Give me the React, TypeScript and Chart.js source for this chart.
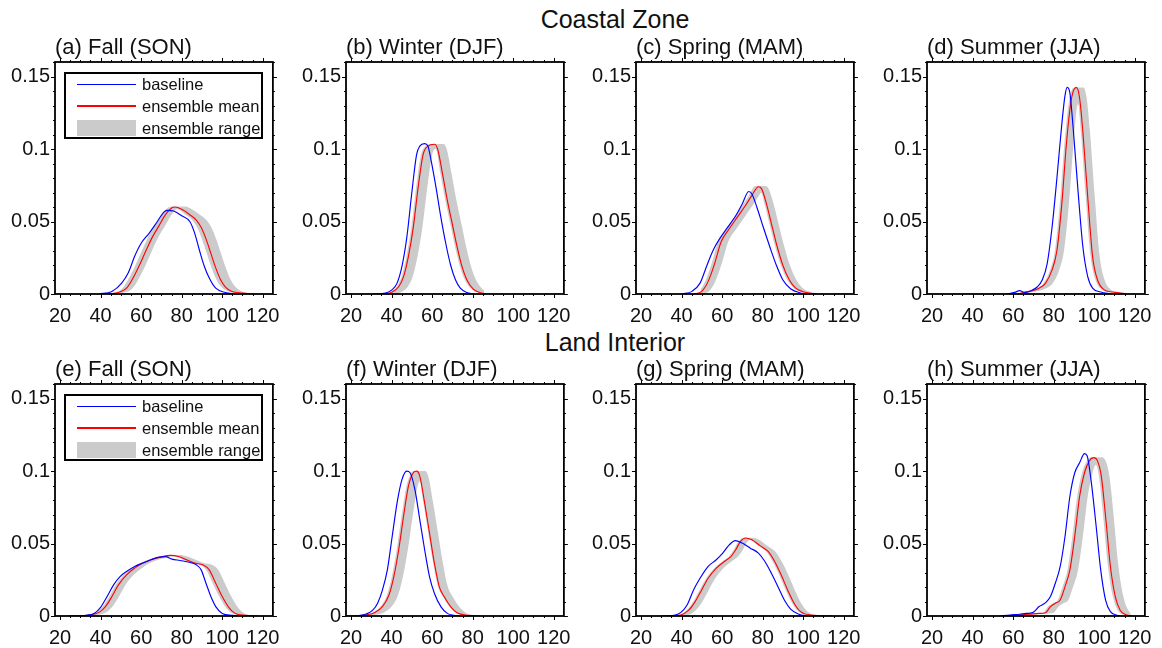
import React, { useEffect, useRef } from "react";
import { Chart, registerables } from "chart.js";

Chart.register(...registerables);

const FONT = "'Liberation Sans', Arial, Helvetica, sans-serif";

// Axis settings
const X_MIN = 17.5;
const X_MAX = 125;
const Y_MAX = 0.16;
const xTickValues = [20, 40, 60, 80, 100, 120];
const yTickValues = [0, 0.05, 0.1, 0.15];
const yTickLabels = ["0", "0.05", "0.1", "0.15"];

const rowTitles = ["Coastal Zone", "Land Interior"];
const panelTitles = [
  "(a) Fall (SON)", "(b) Winter (DJF)", "(c) Spring (MAM)", "(d) Summer (JJA)",
  "(e) Fall (SON)", "(f) Winter (DJF)", "(g) Spring (MAM)", "(h) Summer (JJA)",
];
const legendLabels = ["baseline", "ensemble mean", "ensemble range"];

// ---- Coastal Zone ----
const coastFallBase = [[39.2,0],[45.6,0.0018],[50.4,0.0075],[53.6,0.0144],[56.8,0.026],[60,0.035],[64,0.042],[68,0.05],[71.2,0.0565],[72.8,0.0577],[76,0.0572],[80,0.054],[84,0.05],[86.4,0.042],[88.8,0.03],[91.2,0.019],[93.6,0.011],[96.8,0.004],[101.6,0.001],[106,0]];
const coastFallMean = [[42.4,0],[48.8,0.001],[52.8,0.004],[56,0.011],[59.2,0.02],[62.4,0.03],[65.6,0.0394],[68.8,0.047],[72,0.0547],[75.2,0.0595],[76.8,0.06],[80,0.0584],[84,0.0547],[87.2,0.051],[89.6,0.046],[92,0.038],[94.4,0.028],[96.8,0.018],[99.2,0.0098],[101.6,0.0048],[104.8,0.0018],[109.6,0.0007],[116,0]];
const coastFallHi = [[40.4,0],[46.8,0.001],[50.8,0.004],[54,0.011],[57.2,0.02],[60.4,0.03],[63.6,0.0394],[66.8,0.047],[70,0.0547],[73.2,0.0595],[74.8,0.0603],[81.8,0.0603],[85,0.0584],[89,0.0547],[92.2,0.051],[94.6,0.046],[97,0.038],[99.4,0.028],[101.8,0.018],[104.2,0.0098],[106.6,0.0048],[109.8,0.0018],[114.6,0.0005],[118,0]];
const coastFallLo = [[45.4,0],[51.8,0.001],[55.8,0.004],[59,0.011],[62.2,0.02],[65.4,0.03],[68.6,0.0394],[71.8,0.047],[75,0.0547],[77.7,0.0585],[82,0.0547],[85.2,0.051],[87.6,0.046],[90,0.038],[92.4,0.028],[94.8,0.018],[97.2,0.0098],[99.6,0.0048],[102.8,0.0018],[107.6,0.0007],[114,0]];

const coastWinterBase = [[30.7,0],[37,0.0007],[40.3,0.003],[42.7,0.0075],[45.1,0.019],[47.5,0.039],[49.9,0.069],[52.3,0.096],[53.9,0.102],[56.3,0.1037],[57.9,0.102],[59.5,0.092],[61.9,0.0736],[64.3,0.053],[66.7,0.035],[69.1,0.02],[71.5,0.0098],[73.9,0.004],[77.1,0.001],[80.3,0]];
const coastWinterMean = [[35.5,0],[40.3,0.0014],[43.5,0.005],[45.9,0.012],[48.3,0.026],[50.7,0.046],[53.1,0.0736],[55.5,0.096],[57.9,0.102],[61.1,0.1033],[62.7,0.1],[65.1,0.083],[67.5,0.0645],[69.9,0.0486],[72.3,0.0326],[74.7,0.019],[77.1,0.0098],[80.3,0.0034],[83.5,0.0011],[86.7,0]];
const coastWinterHi = [[34.5,0],[39.3,0.0014],[42.5,0.005],[44.9,0.012],[47.3,0.026],[49.7,0.046],[52.1,0.0736],[54.5,0.096],[56.9,0.102],[60.1,0.1035],[65.6,0.1035],[67.2,0.1],[69.6,0.083],[72,0.0645],[74.4,0.0486],[76.8,0.0326],[79.2,0.019],[81.6,0.0098],[84.8,0.0034],[88,0.0011],[91.2,0]];
const coastWinterLo = [[40,0],[44.8,0.0014],[48,0.005],[50.4,0.012],[52.8,0.026],[55.2,0.046],[57.6,0.0736],[60,0.096],[61.7,0.1],[64.1,0.083],[66.5,0.0645],[68.9,0.0486],[71.3,0.0326],[73.7,0.019],[76.1,0.0098],[79.3,0.0034],[82.5,0.0011],[85.7,0]];

const coastSpringBase = [[40.3,0],[45.1,0.0018],[49.1,0.0075],[52.3,0.019],[55.5,0.03],[58.7,0.038],[62.7,0.046],[66.7,0.054],[69.9,0.062],[73.1,0.0707],[74.7,0.069],[77.1,0.06],[80.3,0.046],[83.5,0.0326],[86.7,0.02],[89.9,0.0098],[93.9,0.0034],[98.7,0.0007],[102,0]];
const coastSpringMean = [[45.9,0],[49.9,0.0018],[53.1,0.0087],[56.3,0.021],[59.5,0.036],[63.5,0.045],[67.5,0.053],[71.5,0.061],[74.7,0.068],[77.9,0.074],[79.5,0.0725],[81.9,0.062],[84.3,0.0486],[86.7,0.035],[89.9,0.02],[93.1,0.0098],[96.3,0.004],[100.3,0.0014],[106.7,0]];
const coastSpringHi = [[44.4,0],[48.4,0.0018],[51.6,0.0087],[54.8,0.021],[58,0.036],[62,0.045],[66,0.053],[70,0.061],[73.2,0.068],[76.4,0.0745],[81.4,0.0745],[83,0.0725],[85.4,0.062],[87.8,0.0486],[90.2,0.035],[93.4,0.02],[96.6,0.0098],[99.8,0.004],[103.8,0.0014],[108,0]];
const coastSpringLo = [[49.4,0],[53.4,0.0018],[56.6,0.0087],[59.8,0.021],[63,0.036],[67,0.045],[71,0.053],[75,0.061],[78.2,0.068],[79.2,0.0698],[80.9,0.062],[83.3,0.0486],[85.7,0.035],[88.9,0.02],[92.1,0.0098],[95.3,0.004],[99.3,0.0014],[105.7,0]];

const coastSummerBase = [[56.8,0],[60.8,0.0011],[63.2,0.0023],[65.6,0.001],[68.8,0.0023],[72,0.005],[74.4,0.0098],[76.8,0.021],[79.2,0.046],[81.6,0.08],[84,0.117],[85.6,0.137],[86.7,0.1425],[88,0.1386],[89.6,0.1147],[92,0.0713],[94.4,0.0326],[96.8,0.012],[99.2,0.004],[103.2,0.0014],[108,0]];
const coastSummerMean = [[62.4,0],[66.4,0.0016],[69.6,0.0023],[72.8,0.004],[76,0.0075],[79.2,0.0166],[81.6,0.03],[84,0.062],[86.4,0.1055],[88.8,0.135],[91.2,0.1425],[92.8,0.135],[94.4,0.112],[96.8,0.0668],[99.2,0.0258],[101.6,0.0098],[104.8,0.003],[108.8,0.0014],[112.8,0.0007],[116,0]];
const coastSummerHi = [[61.4,0],[65.4,0.0016],[68.6,0.0023],[71.8,0.004],[75,0.0075],[78.2,0.0166],[80.6,0.03],[83,0.062],[85.4,0.1055],[87.8,0.135],[90.2,0.1425],[94.7,0.1425],[96.3,0.135],[97.9,0.112],[100.3,0.0668],[102.7,0.0258],[105.1,0.0098],[108.3,0.003],[112.3,0.0014],[116.3,0.0007],[119.5,0]];
const coastSummerLo = [[65.9,0],[69.9,0.0016],[73.1,0.0023],[76.3,0.004],[79.5,0.0075],[82.7,0.0166],[85.1,0.03],[87.5,0.062],[89.9,0.1055],[92,0.131],[93.4,0.112],[95.8,0.0668],[98.2,0.0258],[100.6,0.0098],[103.8,0.003],[107.8,0.0014],[111.8,0.0007],[115,0]];

// ---- Land Interior ----
const landFallBase = [[24,0],[32.8,0.0005],[36.8,0.0018],[40,0.006],[43.2,0.0134],[46.4,0.0215],[49.6,0.0272],[52.8,0.0307],[56.8,0.0342],[60.8,0.0365],[64.8,0.0388],[68.8,0.0406],[72,0.041],[75.2,0.0392],[79.2,0.0383],[83.2,0.0372],[87.2,0.0353],[89.6,0.0318],[92,0.0226],[94.4,0.0134],[96.8,0.0065],[100,0.0018],[104.8,0.0005],[109.6,0]];
const landFallMean = [[28,0],[34.4,0.0007],[39.2,0.0025],[42.4,0.0065],[45.6,0.0134],[48.8,0.0215],[52.8,0.0284],[56.8,0.033],[60.8,0.0365],[64.8,0.0388],[69.6,0.0406],[74.4,0.0418],[78.4,0.041],[82.4,0.0388],[86.4,0.0365],[90.4,0.0353],[93.6,0.0318],[96.8,0.0226],[100,0.0134],[103.2,0.006],[106.4,0.0018],[111.2,0.0005],[117.6,0]];
const landFallHi = [[26.7,0],[33.1,0.0007],[37.9,0.0025],[41.1,0.0065],[44.3,0.0134],[47.5,0.0215],[51.5,0.0284],[55.5,0.033],[59.5,0.0365],[63.5,0.0388],[68.3,0.0406],[73.1,0.042],[78.9,0.042],[82.9,0.041],[86.9,0.0388],[90.9,0.0365],[94.9,0.0353],[98.1,0.0318],[101.3,0.0226],[104.5,0.0134],[107.7,0.006],[110.9,0.0018],[115.7,0.0005],[120,0]];
const landFallLo = [[31.5,0],[37.9,0.0007],[42.7,0.0025],[45.9,0.0065],[49.1,0.0134],[52.3,0.0215],[56.3,0.0284],[60.3,0.033],[64.3,0.0365],[68.3,0.0388],[73.1,0.0406],[76,0.0412],[80.9,0.0388],[84.9,0.0365],[88.9,0.0353],[92.1,0.0318],[95.3,0.0226],[98.5,0.0134],[101.7,0.006],[104.9,0.0018],[109.7,0.0005],[116.1,0]];

const landWinterBase = [[17,0],[22.7,0.0002],[27.5,0.0014],[30.7,0.004],[33.1,0.0088],[35.5,0.018],[37.9,0.0318],[40.3,0.055],[42.7,0.078],[45.1,0.094],[47.5,0.0999],[49.1,0.0988],[51.5,0.0872],[53.9,0.0665],[56.3,0.0457],[58.7,0.0272],[61.1,0.0157],[64.3,0.0065],[67.5,0.0018],[70.7,0.0005],[73.9,0]];
const landWinterMean = [[20.3,0],[26.7,0.0007],[31.5,0.0023],[35.5,0.0065],[38.7,0.0145],[41.1,0.0272],[43.5,0.0457],[45.9,0.0688],[48.3,0.0895],[50.7,0.0988],[52.3,0.0999],[53.9,0.0965],[56.3,0.078],[58.7,0.0572],[61.1,0.0365],[63.5,0.0203],[65.9,0.0134],[69.1,0.0065],[72.3,0.0023],[77.1,0.0005],[83.5,0]];
const landWinterHi = [[19.3,0],[25.7,0.0007],[30.5,0.0023],[34.5,0.0065],[37.7,0.0145],[40.1,0.0272],[42.5,0.0457],[44.9,0.0688],[47.3,0.0895],[49.7,0.0988],[51.3,0.1],[56.5,0.1],[58.1,0.0965],[60.5,0.078],[62.9,0.0572],[65.3,0.0365],[67.7,0.0203],[70.1,0.0134],[73.3,0.0065],[76.5,0.0023],[81.3,0.0005],[87.7,0]];
const landWinterLo = [[24.8,0],[31.2,0.0007],[36,0.0023],[40,0.0065],[43.2,0.0145],[45.6,0.0272],[48,0.0457],[50.4,0.0688],[52.8,0.0895],[53.8,0.093],[55.7,0.078],[58.1,0.0572],[60.5,0.0365],[62.9,0.0203],[65.3,0.0134],[68.5,0.0065],[71.7,0.0023],[76.5,0.0005],[82.9,0]];

const landSpringBase = [[29.9,0],[36.3,0.0005],[39.5,0.0023],[42.7,0.0076],[45.9,0.018],[49.1,0.026],[53.1,0.0342],[57.1,0.0388],[60.3,0.0434],[63.5,0.049],[66.4,0.052],[69.9,0.0503],[73.9,0.0468],[77.9,0.0434],[81.1,0.0376],[84.3,0.0295],[87.5,0.0203],[90.7,0.011],[93.9,0.0046],[97.9,0.0012],[101.9,0]];
const landSpringMean = [[33.1,0],[39.5,0.0007],[43.5,0.004],[46.7,0.0099],[49.9,0.018],[53.1,0.026],[57.1,0.033],[61.1,0.0376],[64.3,0.041],[66.7,0.0457],[69.1,0.0515],[71.5,0.0538],[74.7,0.0526],[78.7,0.0485],[82.7,0.0445],[85.9,0.0376],[89.1,0.0284],[92.3,0.018],[95.5,0.0088],[98.7,0.003],[103.5,0.0007],[114.7,0]];
const landSpringHi = [[32.1,0],[38.5,0.0007],[42.5,0.004],[45.7,0.0099],[48.9,0.018],[52.1,0.026],[56.1,0.033],[60.1,0.0376],[63.3,0.041],[65.7,0.0457],[68.1,0.0515],[70.5,0.054],[75,0.054],[78.2,0.0526],[82.2,0.0485],[86.2,0.0445],[89.4,0.0376],[92.6,0.0284],[95.8,0.018],[99,0.0088],[102.2,0.003],[107,0.0007],[116,0]];
const landSpringLo = [[36.6,0],[43,0.0007],[47,0.004],[50.2,0.0099],[53.4,0.018],[56.6,0.026],[60.6,0.033],[64.6,0.0376],[67.8,0.041],[70.2,0.0457],[72.6,0.0515],[73.6,0.0525],[77.7,0.0485],[81.7,0.0445],[84.9,0.0376],[88.1,0.0284],[91.3,0.018],[94.5,0.0088],[97.7,0.003],[102.5,0.0007],[113.7,0]];

const landSummerBase = [[53.6,0],[58.4,0.0007],[63.2,0.0012],[66.4,0.0018],[69.6,0.0023],[72.8,0.0065],[76,0.0092],[78.4,0.0134],[80.8,0.0226],[83.2,0.034],[85.6,0.055],[88,0.0826],[90.4,0.0988],[92.8,0.1057],[95.2,0.112],[96.5,0.1105],[98.4,0.094],[100.8,0.064],[103.2,0.0318],[105.6,0.011],[108,0.003],[111.2,0.0005],[112.8,0]];
const landSummerMean = [[55.2,0],[61.6,0.0005],[68,0.0012],[72.8,0.0018],[76,0.0023],[78.4,0.0065],[80.8,0.0088],[83.2,0.011],[85.6,0.0203],[88,0.0318],[90.4,0.055],[92.8,0.0826],[95.2,0.0988],[97.6,0.107],[99.7,0.1092],[101.6,0.107],[103.5,0.0965],[105.6,0.0688],[108,0.034],[110.4,0.0134],[112.8,0.004],[116,0.0007],[119.2,0]];
const landSummerHi = [[54,0],[60.4,0.0005],[66.8,0.0012],[71.6,0.0018],[74.8,0.0023],[77.2,0.0065],[79.6,0.0088],[82,0.011],[84.4,0.0203],[86.8,0.0318],[89.2,0.055],[91.6,0.0826],[94,0.0988],[96.4,0.107],[98.5,0.1095],[103.7,0.1095],[105.6,0.107],[107.5,0.0965],[109.6,0.0688],[112,0.034],[114.4,0.0134],[116.8,0.004],[120,0.0007],[123.2,0]];
const landSummerLo = [[59.2,0],[65.6,0.0005],[72,0.0012],[76.8,0.0018],[80,0.0023],[82.4,0.0065],[84.8,0.0088],[87.2,0.011],[89.6,0.0203],[92,0.0318],[94.4,0.055],[96.8,0.0826],[99.2,0.0988],[100.8,0.1043],[102.3,0.0965],[104.4,0.0688],[106.8,0.034],[109.2,0.0134],[111.6,0.004],[114.8,0.0007],[118,0]];

const panelSeries = [
  [coastFallBase, coastFallMean, coastFallHi, coastFallLo],
  [coastWinterBase, coastWinterMean, coastWinterHi, coastWinterLo],
  [coastSpringBase, coastSpringMean, coastSpringHi, coastSpringLo],
  [coastSummerBase, coastSummerMean, coastSummerHi, coastSummerLo],
  [landFallBase, landFallMean, landFallHi, landFallLo],
  [landWinterBase, landWinterMean, landWinterHi, landWinterLo],
  [landSpringBase, landSpringMean, landSpringHi, landSpringLo],
  [landSummerBase, landSummerMean, landSummerHi, landSummerLo],
];

// Layout (plot-area positions on the page)
const COL_LEFT = [55, 346, 636, 927];
const ROW_TOP = [62, 384];
const AREA_W = 223;
const AREA_H = 232;
const CANVAS_W = 290;
const CANVAS_H = 300;
const PAD_LEFT = 55;
const PAD_TOP = 32;

const BLUE = "#0000ff";
const RED = "#ff0000";
const GRAY = "#cbcbcb";

const framePlugin = {
  id: "frameTicks",
  afterDatasetsDraw(chart: any) {
    const { ctx, chartArea: a, scales } = chart;
    const xs = scales.x;
    const ys = scales.y;
    ctx.save();
    ctx.strokeStyle = "#000";
    ctx.lineWidth = 1;
    ctx.beginPath();
    for (let v = 20; v <= 120; v += 5) {
      const px = Math.round(xs.getPixelForValue(v)) + 0.5;
      const len = v % 20 === 0 ? 4 : 2;
      ctx.moveTo(px, a.bottom);
      ctx.lineTo(px, a.bottom + len);
      ctx.moveTo(px, a.top);
      ctx.lineTo(px, a.top - len);
    }
    for (let i = 0; i <= 16; i++) {
      const v = i / 100;
      const py = Math.round(ys.getPixelForValue(v)) + 0.5;
      const len = i % 5 === 0 ? 4 : 2;
      ctx.moveTo(a.left, py);
      ctx.lineTo(a.left - len, py);
      ctx.moveTo(a.right, py);
      ctx.lineTo(a.right + len, py);
    }
    ctx.stroke();
    ctx.lineWidth = 1.8;
    ctx.strokeRect(a.left, a.top, a.right - a.left, a.bottom - a.top);
    ctx.restore();
  },
};

function toXY(arr: number[][]) {
  return arr.map(([x, y]) => ({ x, y }));
}

function Panel({ idx }: { idx: number }) {
  const ref = useRef<HTMLCanvasElement>(null);
  const col = idx % 4;
  const row = Math.floor(idx / 4);
  const left = COL_LEFT[col];
  const top = ROW_TOP[row];

  useEffect(() => {
    const [base, mean, hi, lo] = panelSeries[idx];
    const lineCommon = {
      pointRadius: 0,
      pointHoverRadius: 0,
      cubicInterpolationMode: "monotone" as const,
      tension: 0.4,
    };
    const chart = new Chart(ref.current as HTMLCanvasElement, {
      type: "line",
      data: {
        datasets: [
          { ...lineCommon, label: "baseline", data: toXY(base), borderColor: BLUE, borderWidth: 1.15, fill: false },
          { ...lineCommon, label: "ensemble mean", data: toXY(mean), borderColor: RED, borderWidth: 1.1, fill: false },
          { ...lineCommon, label: "range upper", data: toXY(hi), borderColor: "rgba(0,0,0,0)", borderWidth: 0, fill: false },
          { ...lineCommon, label: "range lower", data: toXY(lo), borderColor: "rgba(0,0,0,0)", borderWidth: 0, backgroundColor: GRAY, fill: "-1" },
        ],
      },
      options: {
        responsive: false,
        maintainAspectRatio: false,
        animation: false,
        events: [],
        layout: { padding: { left: 0, top: PAD_TOP, right: CANVAS_W - PAD_LEFT - AREA_W, bottom: 0 } },
        plugins: { legend: { display: false }, tooltip: { enabled: false }, title: { display: false } },
        scales: {
          x: {
            type: "linear",
            min: X_MIN,
            max: X_MAX,
            grid: { display: false, drawTicks: false },
            border: { display: false },
            ticks: {
              color: "#111",
              font: { family: FONT, size: 20 },
              padding: 10,
              maxRotation: 0,
              autoSkip: false,
              callback: (v: any) => String(v),
            },
            afterBuildTicks: (s: any) => {
              s.ticks = xTickValues.map((v) => ({ value: v }));
            },
            afterFit: (s: any) => {
              s.height = CANVAS_H - PAD_TOP - AREA_H;
            },
          },
          y: {
            type: "linear",
            min: 0,
            max: Y_MAX,
            grid: { display: false, drawTicks: false },
            border: { display: false },
            ticks: {
              color: "#111",
              font: { family: FONT, size: 20 },
              padding: 5,
              autoSkip: false,
              callback: (v: any) => {
                const k = yTickValues.findIndex((t) => Math.abs(t - v) < 1e-9);
                return k >= 0 ? yTickLabels[k] : "";
              },
            },
            afterBuildTicks: (s: any) => {
              s.ticks = yTickValues.map((v) => ({ value: v }));
            },
            afterFit: (s: any) => {
              s.width = PAD_LEFT;
            },
          },
        },
      },
      plugins: [framePlugin],
    });
    return () => chart.destroy();
  }, [idx]);

  const showLegend = col === 0;
  return (
    <>
      <canvas
        ref={ref}
        width={CANVAS_W}
        height={CANVAS_H}
        style={{ position: "absolute", left: left - PAD_LEFT, top: top - PAD_TOP, width: CANVAS_W, height: CANVAS_H }}
      />
      <div
        style={{
          position: "absolute",
          left: left,
          top: top - 15 - 13,
          height: 26,
          lineHeight: "26px",
          fontFamily: FONT,
          fontSize: 22,
          color: "#111",
          whiteSpace: "nowrap",
        }}
      >
        {panelTitles[idx]}
      </div>
      {showLegend && (
        <div
          style={{
            position: "absolute",
            left: left + 9,
            top: top + 10,
            width: 199,
            height: 67,
            boxSizing: "border-box",
            border: "2px solid #000",
            background: "#fff",
            fontFamily: FONT,
            fontSize: 16.5,
            color: "#111",
          }}
        >
          {legendLabels.map((lab, i) => {
            const cy = [10.3, 32, 54][i];
            return (
              <React.Fragment key={lab}>
                {i < 2 ? (
                  <div style={{ position: "absolute", left: 11, top: cy - 0.6, width: 59, height: 1.2, background: i === 0 ? BLUE : RED }} />
                ) : (
                  <div style={{ position: "absolute", left: 11, top: cy - 8, width: 59, height: 16, background: GRAY }} />
                )}
                <div style={{ position: "absolute", left: 76, top: cy - 10, height: 20, lineHeight: "20px", whiteSpace: "nowrap" }}>{lab}</div>
              </React.Fragment>
            );
          })}
        </div>
      )}
    </>
  );
}

export default function App() {
  const titleCenters = [19, 342];
  return (
    <div style={{ position: "fixed", left: 0, top: 0, width: 1162, height: 648, background: "#fff", overflow: "hidden" }}>
      {rowTitles.map((t, i) => (
        <div
          key={t}
          style={{
            position: "absolute",
            left: 415,
            width: 400,
            top: titleCenters[i] - 15,
            height: 30,
            lineHeight: "30px",
            textAlign: "center",
            fontFamily: FONT,
            fontSize: 25,
            color: "#111",
          }}
        >
          {t}
        </div>
      ))}
      {panelTitles.map((_, i) => (
        <Panel key={i} idx={i} />
      ))}
    </div>
  );
}
